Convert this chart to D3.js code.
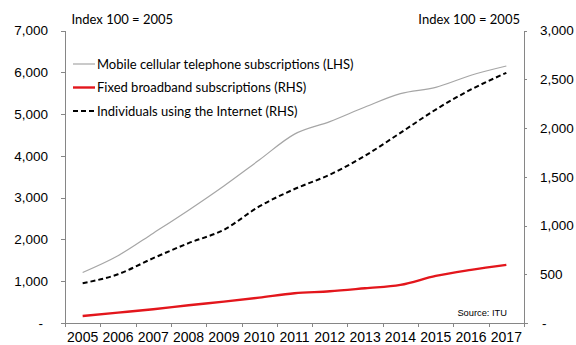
<!DOCTYPE html>
<html>
<head>
<meta charset="utf-8">
<script src="https://cdn.jsdelivr.net/npm/d3@7"></script>
<style>
  html, body { margin: 0; padding: 0; background: #fff; }
  svg { display: block; }
  .axis text { font-family: "Liberation Sans", Arial, sans-serif; font-size: 13.5px; fill: #000; }
  .axis path, .axis line { stroke: #868686; stroke-width: 1; shape-rendering: crispEdges; }
  .note { font-family: Lato, "Open Sans", sans-serif; font-size: 13px; fill: #000; }
</style>
</head>
<body>
<svg id="chart" width="576" height="345"></svg>
<script>
// Years on the category axis
const years = ["2005","2006","2007","2008","2009","2010","2011","2012","2013","2014","2015","2016","2017"];

// Index 100 = 2005 (left-hand scale)
const mobileSubs = [1210, 1610, 2150, 2700, 3280, 3900, 4520, 4820, 5170, 5490, 5640, 5930, 6150];
// Index 100 = 2005 (right-hand scale)
const fixedBroadband = [72, 106, 141, 182, 219, 260, 305, 325, 357, 391, 483, 545, 596];
const internetUsers = [408, 500, 665, 819, 956, 1195, 1374, 1521, 1716, 1950, 2189, 2395, 2566];

const leftTicks = [0, 1000, 2000, 3000, 4000, 5000, 6000, 7000];
const rightTicks = [0, 500, 1000, 1500, 2000, 2500, 3000];

const legendLabels = [
  "Mobile cellular telephone subscriptions (LHS)",
  "Fixed broadband subscriptions (RHS)",
  "Individuals using the Internet (RHS)"
];

const svg = d3.select("#chart");
const plotLeft = 65, plotRight = 524, plotTop = 30.5, plotBottom = 323;

const x = d3.scaleBand().domain(years).range([plotLeft, plotRight]).padding(0);
const yL = d3.scaleLinear().domain([0, 7000]).range([plotBottom, plotTop]);
const yR = d3.scaleLinear().domain([0, 3000]).range([plotBottom, plotTop]);

const fmt = v => v === 0 ? "-" : d3.format(",")(v);

// Left axis
const gL = svg.append("g").attr("class", "axis").attr("transform", `translate(${plotLeft},0)`)
  .call(d3.axisLeft(yL).tickValues(leftTicks).tickFormat(fmt).tickSize(4).tickSizeOuter(0).tickPadding(13));
gL.selectAll(".tick text").filter(d => d === 0).attr("dx", -5);

// Right axis
const gR = svg.append("g").attr("class", "axis").attr("transform", `translate(${plotRight},0)`)
  .call(d3.axisRight(yR).tickValues(rightTicks).tickFormat(fmt).tickSize(3).tickSizeOuter(0).tickPadding(13));
gR.selectAll(".tick text").filter(d => d === 0).attr("dx", 2);

// Bottom axis with ticks on band boundaries
const gX = svg.append("g").attr("class", "axis").attr("transform", `translate(0,${plotBottom})`)
  .call(d3.axisBottom(x).tickSize(0).tickPadding(9.5));
gX.select(".domain").attr("d", `M${plotLeft - 4},0.5H${plotRight + 4}`);
gX.selectAll(".tick text").style("font-size", "14px");
const bounds = years.map(y => x(y)).concat([plotRight]);
gX.selectAll("line.sep").data(bounds).enter().append("line")
  .attr("class", "sep")
  .attr("x1", d => Math.round(d) + 0.5).attr("x2", d => Math.round(d) + 0.5)
  .attr("y1", 0).attr("y2", 4);

const cx = d => x(d) + x.bandwidth() / 2;

const lineL = d3.line().x((d, i) => cx(years[i])).y(d => yL(d)).curve(d3.curveMonotoneX);
const lineR = d3.line().x((d, i) => cx(years[i])).y(d => yR(d)).curve(d3.curveMonotoneX);

svg.append("path").attr("d", lineL(mobileSubs))
  .attr("fill", "none").attr("stroke", "#a6a6a6").attr("stroke-width", 1.2);
svg.append("path").attr("d", lineR(fixedBroadband))
  .attr("fill", "none").attr("stroke", "#e3161c").attr("stroke-width", 2.4);
svg.append("path").attr("d", lineR(internetUsers))
  .attr("fill", "none").attr("stroke", "#000").attr("stroke-width", 2)
  .attr("stroke-dasharray", "5,3");

// Legend
const legendStyles = [
  { stroke: "#a6a6a6", width: 1.2, dash: null },
  { stroke: "#e3161c", width: 2.4, dash: null },
  { stroke: "#000", width: 2, dash: "5,3" }
];
const rowY = [64, 87.5, 111];
legendLabels.forEach((label, i) => {
  const s = legendStyles[i];
  svg.append("line").attr("x1", 73).attr("x2", 95).attr("y1", rowY[i]).attr("y2", rowY[i])
    .attr("stroke", s.stroke).attr("stroke-width", s.width).attr("stroke-dasharray", s.dash);
  svg.append("text").attr("class", "note").attr("x", 97).attr("y", rowY[i] + 4.5).text(label);
});

// Scale notes and source
svg.append("text").attr("class", "note").attr("x", 71.5).attr("y", 23.5).text("Index 100 = 2005");
svg.append("text").attr("class", "note").attr("x", 520).attr("y", 23.5)
  .attr("text-anchor", "end").text("Index 100 = 2005");
svg.append("text").attr("x", 507).attr("y", 316)
  .attr("text-anchor", "end")
  .style("font-family", "'Liberation Sans', Arial, sans-serif").style("font-size", "9.3px")
  .text("Source: ITU");
</script>
</body>
</html>
